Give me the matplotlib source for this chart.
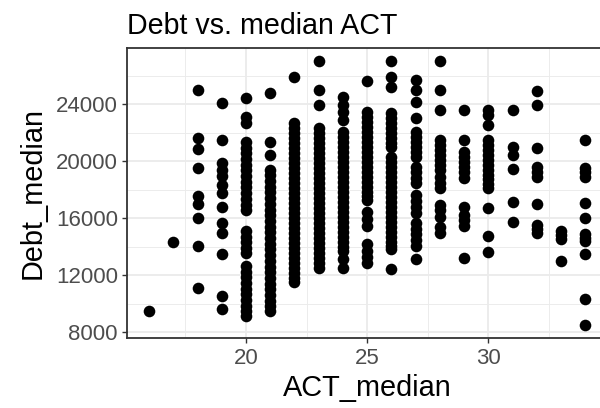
import matplotlib
matplotlib.use("Agg")
import matplotlib.pyplot as plt
from matplotlib.ticker import MultipleLocator
import numpy as np

# Median student debt by median ACT score, one list per ACT value
debt_act16 = [9500]
debt_act17 = [14300]
debt_act18 = [25000, 21600, 20850, 19500, 17550, 17000, 16000, 14050, 11100]
debt_act19 = [24100, 21450, 19850, 19400, 18950, 18350, 17750, 16800, 15650,
              14950, 13450, 10550, 9600]
debt_act20 = [24450, 23100, 22650,
              21350, 20950, 20550, 20150, 19750, 19350, 18950, 18550, 18150,
              17750, 17350, 16950, 16600,
              15100, 14700, 14300, 13900, 13550,
              12650, 12250, 11850, 11450, 11050, 10650, 10250, 9850, 9500, 9150]
debt_act21 = [24750, 21350, 20450,
              19400, 19000, 18600, 18200, 17800, 17400, 17000, 16600, 16200,
              15800, 15400, 15000, 14600, 14200, 13800, 13400, 13000, 12600,
              12200, 11800, 11400, 11000, 10600, 10200, 9850, 9500]
debt_act22 = [25900,
              22650, 22300, 21950, 21600, 21250, 20900, 20550, 20200, 19850,
              19500, 19150, 18800, 18450, 18100, 17750, 17400, 17050, 16700,
              16350, 16000, 15650, 15300, 14950, 14600, 14250, 13900, 13550,
              13200, 12850, 12500, 12150, 11800, 11500]
debt_act23 = [27000, 25000, 23950,
              22300, 21950, 21600, 21250, 20900, 20550, 20200, 19850, 19500,
              19150, 18800, 18450, 18100, 17750, 17400, 17050, 16700, 16350,
              16000, 15650, 15300, 14950, 14600, 14250, 13900, 13550, 13200,
              12850, 12500]
debt_act24 = [24500, 23950, 23450, 22900,
              22050, 21700, 21350, 21000, 20650, 20300, 19950, 19600, 19250,
              18900, 18550, 18200, 17850, 17500, 17150, 16800, 16450, 16100,
              15750, 15400, 15050, 14700, 14350, 14000, 13700,
              13100, 12500]
debt_act25 = [25650,
              23450, 23100, 22750, 22400, 22050, 21700, 21350, 21000, 20650,
              20300, 19950, 19600, 19250, 18900, 18550, 18200, 17850, 17550,
              17300,
              16450, 15950, 15450,
              14150, 13700, 13300, 12870]
debt_act26 = [27000, 25900, 25200,
              23350, 23000, 22650, 22300, 21950, 21600, 21300, 21000,
              20300, 19950, 19600, 19250, 18900, 18550, 18200, 17850, 17500,
              17150, 16800, 16450, 16100, 15750, 15400, 15050, 14700, 14350,
              14050, 13800,
              12400]
debt_act27 = [25700, 25000, 24150, 23000,
              22050, 21700, 21350, 21000, 20650, 20300,
              19600, 19200, 18800, 18450,
              17650, 17200, 16750, 16350,
              15650, 15250, 14850, 14450, 14050,
              13100]
debt_act28 = [27000, 25000, 23600,
              21450, 21100, 20750, 20400, 20050, 19700, 19350, 18900, 18450,
              18100, 16950, 16550, 16100, 15400, 14950]
debt_act29 = [23600, 21500, 20650, 20300, 19900, 19550, 19200, 18800,
              16800, 16250, 15850, 15450, 13200]
debt_act30 = [23600, 23250, 22550, 21500, 21150, 20800, 20450, 20100, 19750,
              19400, 19050, 18750, 18400, 18100, 16700, 14750, 13600]
debt_act31 = [23600, 21000, 20450, 19450, 17100, 15700]
debt_act32 = [24950, 23950, 20950, 19600, 19250, 18900, 17000, 15550, 15250,
              14950]
debt_act33 = [15100, 14800, 14500, 13000]
debt_act34 = [21500, 19500, 19200, 18900, 17050, 16000, 14850, 14600, 14400,
              13500, 10300, 8500]

act_levels = list(range(16, 35))
debt_columns = [debt_act16, debt_act17, debt_act18, debt_act19, debt_act20,
                debt_act21, debt_act22, debt_act23, debt_act24, debt_act25,
                debt_act26, debt_act27, debt_act28, debt_act29, debt_act30,
                debt_act31, debt_act32, debt_act33, debt_act34]

act_median = np.concatenate([[a] * len(d) for a, d in zip(act_levels, debt_columns)])
debt_median = np.concatenate(debt_columns)

plt.rcParams["font.family"] = ["Liberation Sans", "DejaVu Sans"]

fig = plt.figure(figsize=(6.0, 4.08), dpi=100)
# panel runs slightly past the right edge of the canvas
ax = fig.add_axes([0.2122, 0.1711, 0.7995, 0.711])

ax.scatter(act_median, debt_median, s=70, color="black", linewidths=0, zorder=3)


def expanded(lo, hi, frac=0.05):
    pad = (hi - lo) * frac
    return lo - pad, hi + pad


ax.set_xlim(*expanded(act_median.min(), act_median.max()))
ax.set_ylim(*expanded(debt_median.min(), debt_median.max()))

ax.xaxis.set_major_locator(MultipleLocator(5))
ax.xaxis.set_minor_locator(MultipleLocator(2.5))
ax.yaxis.set_major_locator(MultipleLocator(4000))
ax.yaxis.set_minor_locator(MultipleLocator(2000))

ax.set_facecolor("white")
ax.grid(which="major", color="#EBEBEB", linewidth=1.3, zorder=0)
ax.grid(which="minor", color="#EBEBEB", linewidth=0.65, zorder=0)
ax.set_axisbelow(True)

for sp in ax.spines.values():
    sp.set_color("#333333")
    sp.set_linewidth(1.3)

ax.tick_params(which="major", length=3.8, width=1.0, color="#333333",
               labelsize=16, labelcolor="#4D4D4D", pad=3)
ax.tick_params(which="minor", length=0)

ax.set_xlabel("ACT_median", fontsize=20.8, labelpad=4)
ax.set_ylabel("Debt_median", fontsize=20.8, labelpad=6.5)
ax.set_title("Debt vs. median ACT", fontsize=20.6, loc="left", pad=10.5)

fig.savefig("out.png", dpi=100)
